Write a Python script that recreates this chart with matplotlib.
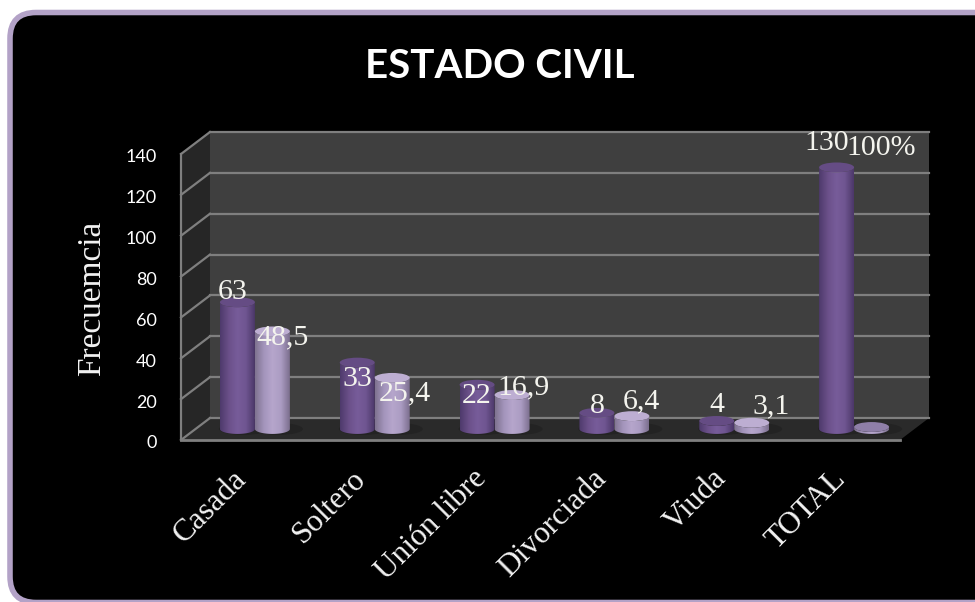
import numpy as np
import matplotlib
matplotlib.use("Agg")
import matplotlib.pyplot as plt
from matplotlib.patches import Ellipse, FancyBboxPatch, Polygon
from matplotlib.path import Path
from matplotlib.transforms import Affine2D, IdentityTransform
from matplotlib.colors import LinearSegmentedColormap

# Data
categories = ["Casada", "Soltero", "Unión libre", "Divorciada", "Viuda", "TOTAL"]
frecuencia = [63, 33, 22, 8, 4, 130]
porcentaje = [48.5, 25.4, 16.9, 6.4, 3.1, 1]
labels_frec = ["63", "33", "22", "8", "4", "130"]
labels_pct = ["48,5", "25,4", "16,9", "6,4", "3,1", "100%"]
yticks = [0, 20, 40, 60, 80, 100, 120, 140]

# Label offsets from the top of each bar, in pixels
offs_frec = [(-5, 10), (0, -16), (0, -11), (0, 7), (0, 16), (-10, 24)]
offs_pct = [(10, -6), (13, -15), (11, 8), (10, 15), (19, 16), (10, 279)]

W, H = 975, 602
fig = plt.figure(figsize=(W / 100, H / 100), dpi=100, facecolor="white")

# Background frame
bg = fig.add_axes([0, 0, 1, 1])
bg.set_xlim(0, W)
bg.set_ylim(H, 0)
bg.axis("off")
bg.add_patch(FancyBboxPatch((10, 12.5), 1000, 590, boxstyle="round,pad=0,rounding_size=26",
                            fc="black", ec="#b3a2c7", lw=4))
bg.text(500, 66, "ESTADO CIVIL", color="white", fontsize=29, fontweight="bold",
        family="Lato", ha="center", va="center")

# Front plane of the 3D box
ax = fig.add_axes([181 / W, 1 - 440 / H, 719 / W, 286 / H])
ax.patch.set_alpha(0)
for s in ax.spines.values():
    s.set_visible(False)

x0, x1 = -0.5, 5.5
ax.set_xlim(x0, x1)
ax.set_ylim(0, 140)

px = IdentityTransform()
back = ax.transData + Affine2D().translate(29, 22)
mid = Affine2D().scale(1, 0.985) + ax.transData + Affine2D().translate(14, 11)

wall = "#3f3f3f"
grid = "#7f7f7f"

# Walls and floor
ax.add_patch(Polygon([(x0, 0), (x1, 0), (x1, 140), (x0, 140)], fc=wall, ec="none",
                     transform=back, clip_on=False, zorder=1))
pts = [ax.transData.transform(p) for p in [(x0, 0), (x0, 140)]]
pts += [back.transform(p) for p in [(x0, 140), (x0, 0)]]
ax.add_patch(Polygon(pts, fc="#262626", ec="none", transform=px, clip_on=False, zorder=1))
pts = [ax.transData.transform(p) for p in [(x0, 0), (x1, 0)]]
pts += [back.transform(p) for p in [(x1, 0), (x0, 0)]]
ax.add_patch(Polygon(pts, fc="#2a2a2a", ec="none", transform=px, clip_on=False, zorder=1))

# Grid on both walls
for t in yticks:
    ax.plot([x0, x1], [t, t], color=grid, lw=1.6, transform=back, clip_on=False, zorder=2)
    a = ax.transData.transform((x0, t))
    b = back.transform((x0, t))
    ax.plot([a[0], b[0]], [a[1], b[1]], color=grid, lw=1.6, transform=px, clip_on=False, zorder=2)
ax.plot([x0, x0], [0, 140], color=grid, lw=1.6, clip_on=False, zorder=2)
ax.plot([x0, x1], [0, 0], color=grid, lw=2, clip_on=False, zorder=2)

dark = LinearSegmentedColormap.from_list("d", ["#4e3a6c", "#6b5089", "#775c9a", "#6f5591", "#4c3869"])
light = LinearSegmentedColormap.from_list("l", ["#7f7390", "#a394bb", "#b6a6cc", "#ab9cc3", "#7c6f8e"])
grad = np.linspace(0, 1, 64).reshape(1, -1)

bw = 0.292
ry = 2.45  # half height of the ellipse, in data units


def cylinder(xc, v, cmap, cap, z):
    # shadow on the floor
    ax.add_patch(Ellipse((xc + 0.05, 0), bw * 1.4, ry * 2.4, fc="#232323", ec="none",
                         transform=mid, clip_on=False, zorder=2.5))
    t = np.linspace(np.pi, 2 * np.pi, 40)
    xs = xc + bw / 2 * np.cos(t)
    ys = ry * np.sin(t)
    t2 = t[::-1]
    xs2 = xc + bw / 2 * np.cos(t2)
    ys2 = v + ry * np.sin(t2)
    verts = np.r_[np.c_[xs, ys], np.c_[xs2, ys2], [[xs[0], ys[0]]]]
    codes = [Path.MOVETO] + [Path.LINETO] * (len(verts) - 2) + [Path.CLOSEPOLY]
    body = Path(verts, codes)
    im = ax.imshow(grad, cmap=cmap, extent=(xc - bw / 2, xc + bw / 2, -ry, v + ry),
                   aspect="auto", transform=mid, zorder=z, interpolation="bilinear")
    im.set_clip_path(body, mid)
    ax.add_patch(Ellipse((xc, v), bw, ry * 2, fc=cap, ec="none", transform=mid,
                         clip_on=False, zorder=z + 0.1))


xs = np.arange(len(categories))
for i in xs:
    x_a = i - bw / 2
    x_b = i + bw / 2
    cylinder(x_a, frecuencia[i], dark, "#654c84", 3)
    cylinder(x_b, porcentaje[i], light, "#bdaed2" if i < 5 else "#8f7fa8", 4)
    ax.annotate(labels_frec[i], (x_a, frecuencia[i]), xycoords=mid, xytext=offs_frec[i],
                textcoords="offset pixels", color="#f4f4ee", fontsize=21.5, family="Liberation Serif",
                ha="center", va="center", zorder=6, annotation_clip=False)
    ax.annotate(labels_pct[i], (x_b, porcentaje[i]), xycoords=mid, xytext=offs_pct[i],
                textcoords="offset pixels", color="#f4f4ee", fontsize=21.5, family="Liberation Serif",
                ha="center", va="center", zorder=6, annotation_clip=False)

ax.set_xlim(x0, x1)
ax.set_ylim(0, 140)
ax.set_yticks(yticks)
ax.set_xticks(xs)
ax.set_xticklabels(categories, rotation=45, ha="right", va="top", rotation_mode="anchor",
                   family="Liberation Serif", fontsize=22.5, color="#f2f2f2")
ax.tick_params(axis="x", length=0, pad=16)
ax.tick_params(axis="y", length=0, pad=17.5, labelcolor="white", labelsize=13)
for lab in ax.get_xticklabels():
    lab.set_transform(lab.get_transform() + Affine2D().translate(-9, -2))
for lab in ax.get_yticklabels():
    lab.set_family("Lato")
    lab.set_transform(lab.get_transform() + Affine2D().translate(0, -2))
ax.set_ylabel("Frecuemcia", color="#f2f2f2", family="Liberation Serif", fontsize=24)
ax.yaxis.set_label_coords((107 - 181) / 719, (440 - 298) / 286)

fig.savefig("out.png", dpi=100, facecolor="white")
